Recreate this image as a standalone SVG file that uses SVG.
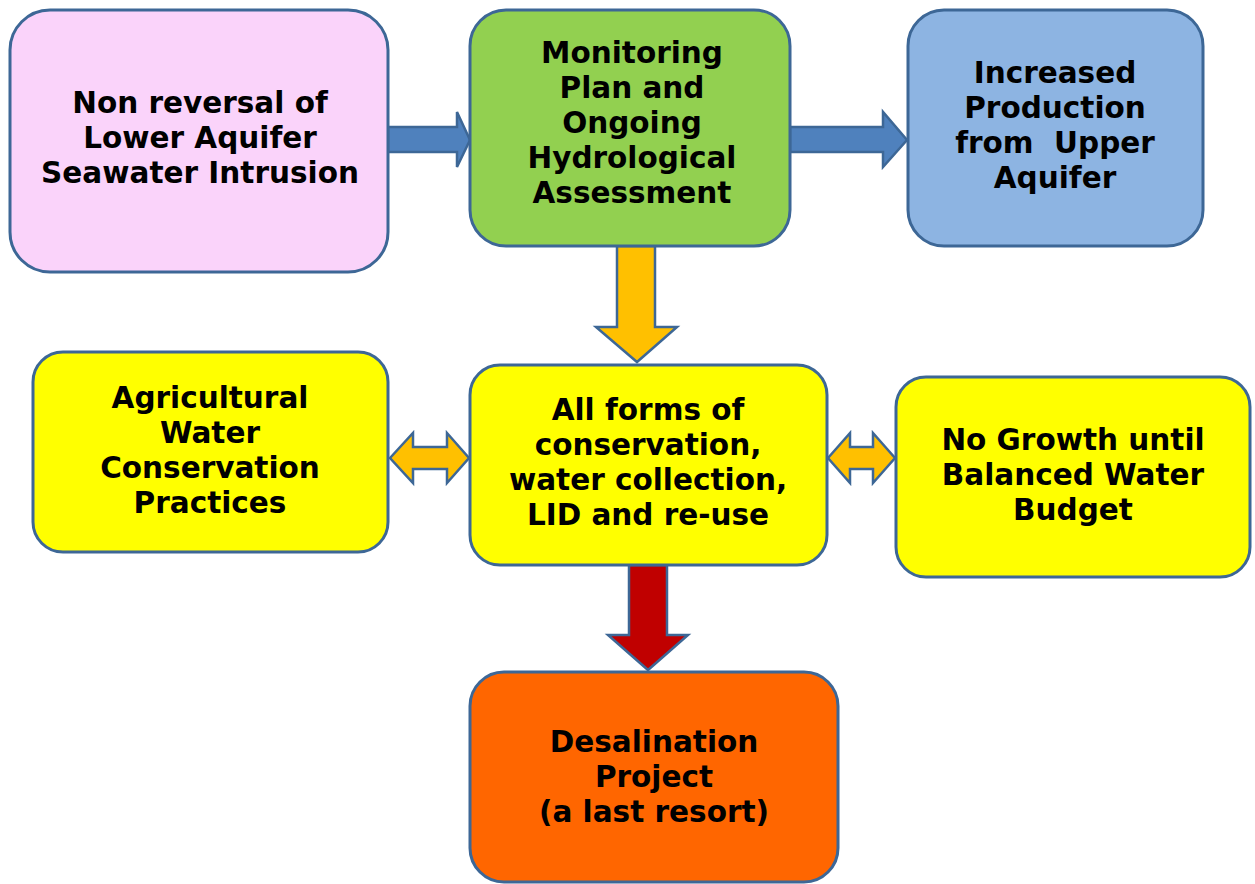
<svg xmlns="http://www.w3.org/2000/svg" width="1255" height="884" viewBox="0 0 1255 884">
<style>
.box{stroke:#3d6796;stroke-width:3}
.arr{stroke:#3d6796;stroke-width:2.5;stroke-linejoin:miter}
text{font-family:"DejaVu Sans",sans-serif;font-weight:bold;font-size:29.5px;fill:#000;text-anchor:middle}
.pre{white-space:pre}
</style>
<rect width="1255" height="884" fill="#fff"/>
<g id="connectors">
<path class="arr" fill="#4f81bd" d="M388,127 H457 V112 L470,140 L457,167 V152 H388 Z"/>
<path class="arr" fill="#4f81bd" d="M790,127 H883 V112 L907,140 L883,167 V152 H790 Z"/>
<path class="arr" fill="#ffc000" d="M617,246 H655 V327 H677 L637,362 L596,327 H617 Z"/>
<path class="arr" fill="#ffc000" d="M390,458 L413,433 V447 H447 V433 L469,458 L447,483 V469 H413 V483 Z"/>
<path class="arr" fill="#ffc000" d="M828,458 L850,433 V447 H873 V433 L895,458 L873,483 V469 H850 V483 Z"/>
<path class="arr" fill="#c00000" d="M629,565 H667 V635 H688 L648,670 L608,635 H629 Z"/>
</g>
<g id="n1">
<rect class="box" x="10" y="10" width="378" height="262" rx="40" fill="#fad3fa"/>
<text x="200" y="113">Non reversal of</text>
<text x="200" y="148">Lower Aquifer</text>
<text x="200" y="183">Seawater Intrusion</text>
</g>
<g id="n2">
<rect class="box" x="470" y="10" width="320" height="236" rx="36" fill="#92d050"/>
<text x="632" y="63">Monitoring</text>
<text x="632" y="98">Plan and</text>
<text x="632" y="133">Ongoing</text>
<text x="632" y="168">Hydrological</text>
<text x="632" y="203">Assessment</text>
</g>
<g id="n3">
<rect class="box" x="908" y="10" width="295" height="236" rx="36" fill="#8db4e2"/>
<text x="1055" y="83">Increased</text>
<text x="1055" y="118">Production</text>
<text class="pre" x="1055" y="153" xml:space="preserve">from  Upper</text>
<text x="1055" y="188">Aquifer</text>
</g>
<g id="n4">
<rect class="box" x="33" y="352" width="355" height="200" rx="30" fill="#ffff00"/>
<text x="210" y="408">Agricultural</text>
<text x="210" y="443">Water</text>
<text x="210" y="478">Conservation</text>
<text x="210" y="513">Practices</text>
</g>
<g id="n5">
<rect class="box" x="470" y="365" width="357" height="200" rx="30" fill="#ffff00"/>
<text x="648" y="420">All forms of</text>
<text x="648" y="455">conservation,</text>
<text x="648" y="490">water collection,</text>
<text x="648" y="525">LID and re-use</text>
</g>
<g id="n6">
<rect class="box" x="896" y="377" width="354" height="200" rx="30" fill="#ffff00"/>
<text x="1073" y="450">No Growth until</text>
<text x="1073" y="485">Balanced Water</text>
<text x="1073" y="520">Budget</text>
</g>
<g id="n7">
<rect class="box" x="470" y="672" width="368" height="210" rx="34" fill="#ff6600"/>
<text x="654" y="752">Desalination</text>
<text x="654" y="787">Project</text>
<text x="654" y="822">(a last resort)</text>
</g>
</svg>
